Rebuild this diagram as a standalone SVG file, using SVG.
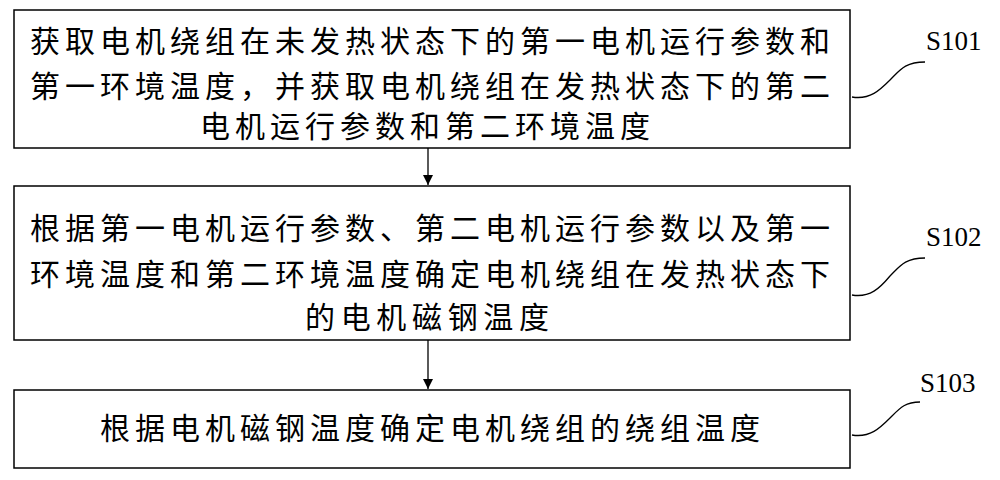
<svg xmlns="http://www.w3.org/2000/svg" width="1000" height="480" viewBox="0 0 1000 480">
<style>
.b{fill:#fff;stroke:#000;stroke-width:1.5}
.t{font-family:"Noto Sans CJK SC","Noto Sans CJK JP",sans-serif;font-size:30px;fill:#000}
.l{font-family:"Liberation Serif",serif;font-size:27px;fill:#000}
.c{fill:none;stroke:#000;stroke-width:1.3}
</style>
<defs><marker id="a" markerWidth="12" markerHeight="12" refX="10" refY="5" orient="auto" markerUnits="userSpaceOnUse"><path d="M0,0L10,5L0,10z"/></marker></defs>
<g id="n1"><rect class="b" x="14" y="10" width="836" height="138"/>
<text class="t" x="30" y="52" textLength="800">获取电机绕组在未发热状态下的第一电机运行参数和</text>
<text class="t" x="30" y="97" textLength="800">第一环境温度，并获取电机绕组在发热状态下的第二</text>
<text class="t" x="200" y="137" textLength="450">电机运行参数和第二环境温度</text></g>
<g id="n2"><rect class="b" x="14" y="186" width="836" height="154"/>
<text class="t" x="30" y="239" textLength="800">根据第一电机运行参数、第二电机运行参数以及第一</text>
<text class="t" x="30" y="285" textLength="800">环境温度和第二环境温度确定电机绕组在发热状态下</text>
<text class="t" x="305" y="328" textLength="244">的电机磁钢温度</text></g>
<g id="n3"><rect class="b" x="14" y="390" width="836" height="78"/>
<text class="t" x="100" y="439" textLength="660">根据电机磁钢温度确定电机绕组的绕组温度</text></g>
<g id="labels">
<text class="l" x="926" y="50">S101</text>
<text class="l" x="926" y="246">S102</text>
<text class="l" x="920" y="392">S103</text></g>
<g id="connectors">
<line class="c" x1="428" y1="148" x2="428" y2="185" marker-end="url(#a)"/>
<line class="c" x1="428" y1="340" x2="428" y2="389" marker-end="url(#a)"/>
<path class="c" d="M852,97 C870,100 880,90 890,80 C900,70 905,62 925,62"/>
<path class="c" d="M852,295 C870,298 880,288 890,276 C900,266 905,258 925,258"/>
<path class="c" d="M852,435 C870,438 880,428 890,418 C900,408 905,402 920,402"/>
</g>
</svg>
